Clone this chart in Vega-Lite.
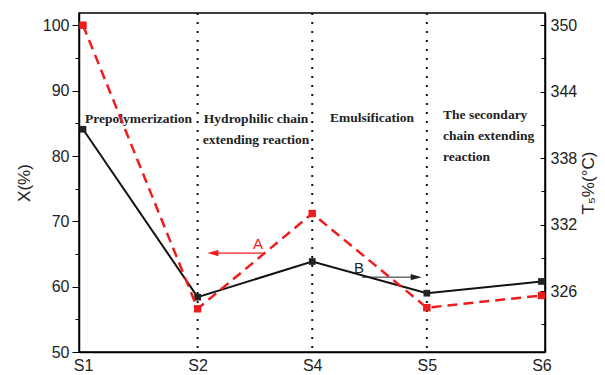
{
  "$schema": "https://vega.github.io/schema/vega-lite/v6.json",
  "width": 466,
  "height": 339,
  "autosize": {"type": "none"},
  "padding": {"left": 79, "top": 13, "right": 60, "bottom": 23},
  "config": {
    "view": {"stroke": "#000000", "strokeWidth": 1.5},
    "axis": {
      "domainColor": "#000000",
      "domainWidth": 1.5,
      "tickColor": "#000000",
      "labelColor": "#222222",
      "titleColor": "#222222",
      "labelFont": "Liberation Sans",
      "titleFont": "Liberation Sans",
      "labelFontSize": 16,
      "titleFontSize": 17,
      "titleFontWeight": "normal",
      "grid": false
    }
  },
  "datasets": {
    "series": [
      {"idx": 1, "stage": "S1", "X": 84.1, "T": 350.0},
      {"idx": 2, "stage": "S2", "X": 58.4, "T": 324.4},
      {"idx": 3, "stage": "S4", "X": 63.85, "T": 333.0},
      {"idx": 4, "stage": "S5", "X": 59.0, "T": 324.5},
      {"idx": 5, "stage": "S6", "X": 60.8, "T": 325.6}
    ],
    "stagesCentered": [
      {"x": 1.484, "y": 85.7, "text": "Prepolymerization"},
      {"x": 2.51, "y": 85.7, "text": "Hydrophilic chain"},
      {"x": 2.51, "y": 82.5, "text": "extending reaction"},
      {"x": 3.522, "y": 85.9, "text": "Emulsification"}
    ],
    "stagesLeft": [
      {"x": 4.141, "y": 86.35, "text": "The secondary"},
      {"x": 4.141, "y": 83.0, "text": "chain extending"},
      {"x": 4.141, "y": 79.9, "text": "reaction"}
    ],
    "arrowA": [{"x": 2.579, "x2": 2.133, "y": 65.14, "head": 2.133, "lx": 2.527, "ly": 66.57, "label": "A"}],
    "arrowB": [{"x": 3.435, "x2": 3.907, "y": 61.46, "head": 3.907, "lx": 3.408, "ly": 62.93, "label": "B"}]
  },
  "data": {"name": "series"},
  "layer": [
    {
      "transform": [{"filter": "datum.idx >= 2 && datum.idx <= 4"}],
      "mark": {"type": "rule", "strokeDash": [2, 7], "strokeWidth": 2, "color": "#111111"},
      "encoding": {
        "x": {"field": "idx", "type": "quantitative", "scale": {"domain": [0.965, 5.031], "nice": false, "zero": false}}
      }
    },
    {
      "mark": {"type": "line", "color": "#111111", "strokeWidth": 2},
      "encoding": {
        "x": {
          "field": "idx", "type": "quantitative",
          "scale": {"domain": [0.965, 5.031], "nice": false, "zero": false},
          "axis": {
            "values": [1, 2, 3, 4, 5],
            "labelExpr": "datum.value == 1 ? 'S1' : datum.value == 2 ? 'S2' : datum.value == 3 ? 'S4' : datum.value == 4 ? 'S5' : 'S6'",
            "ticks": false,
            "title": null,
            "labelPadding": 5,
            "labelFlush": false
          }
        },
        "y": {
          "field": "X", "type": "quantitative",
          "scale": {"domain": [50, 101.9], "nice": false, "zero": false},
          "axis": {
            "title": "X(%)",
            "values": [50, 60, 70, 80, 90, 100],
            "tickSize": 7,
            "labelPadding": 3,
            "titlePadding": 9
          }
        }
      }
    },
    {
      "mark": {"type": "point", "opacity": 0},
      "encoding": {
        "x": {"field": "idx", "type": "quantitative", "scale": {"domain": [0.965, 5.031], "nice": false, "zero": false}},
        "y": {
          "field": "X", "type": "quantitative",
          "scale": {"domain": [50, 101.9], "nice": false, "zero": false},
          "axis": {"orient": "left", "values": [55, 65, 75, 85, 95], "labels": false, "domain": false, "title": null, "tickSize": 4}
        }
      }
    },
    {
      "mark": {"type": "point", "shape": "square", "filled": true, "color": "#222222", "size": 45, "opacity": 1, "clip": false},
      "encoding": {
        "x": {"field": "idx", "type": "quantitative", "scale": {"domain": [0.965, 5.031], "nice": false, "zero": false}},
        "y": {"field": "X", "type": "quantitative", "scale": {"domain": [50, 101.9], "nice": false, "zero": false}, "axis": null}
      }
    },
    {
      "data": {"name": "stagesCentered"},
      "mark": {"type": "text", "font": "Liberation Serif", "fontWeight": "bold", "fontSize": 13.5, "color": "#222222", "align": "center", "baseline": "middle"},
      "encoding": {
        "x": {"field": "x", "type": "quantitative", "scale": {"domain": [0.965, 5.031], "nice": false, "zero": false}},
        "y": {"field": "y", "type": "quantitative", "scale": {"domain": [50, 101.9], "nice": false, "zero": false}, "axis": null},
        "text": {"field": "text"}
      }
    },
    {
      "data": {"name": "stagesLeft"},
      "mark": {"type": "text", "font": "Liberation Serif", "fontWeight": "bold", "fontSize": 13.5, "color": "#222222", "align": "left", "baseline": "middle"},
      "encoding": {
        "x": {"field": "x", "type": "quantitative", "scale": {"domain": [0.965, 5.031], "nice": false, "zero": false}},
        "y": {"field": "y", "type": "quantitative", "scale": {"domain": [50, 101.9], "nice": false, "zero": false}, "axis": null},
        "text": {"field": "text"}
      }
    },
    {
      "data": {"name": "arrowA"},
      "mark": {"type": "rule", "color": "#ee1c1c", "strokeWidth": 1.2},
      "encoding": {
        "x": {"field": "x", "type": "quantitative", "scale": {"domain": [0.965, 5.031], "nice": false, "zero": false}},
        "x2": {"field": "x2"},
        "y": {"field": "y", "type": "quantitative", "scale": {"domain": [50, 101.9], "nice": false, "zero": false}, "axis": null}
      }
    },
    {
      "data": {"name": "arrowA"},
      "mark": {"type": "point", "shape": "M-1,0L1,-0.55L1,0.55Z", "filled": true, "color": "#ee1c1c", "size": 121, "opacity": 1},
      "encoding": {
        "x": {"field": "head", "type": "quantitative", "scale": {"domain": [0.965, 5.031], "nice": false, "zero": false}},
        "y": {"field": "y", "type": "quantitative", "scale": {"domain": [50, 101.9], "nice": false, "zero": false}, "axis": null}
      }
    },
    {
      "data": {"name": "arrowA"},
      "mark": {"type": "text", "font": "Liberation Sans", "fontSize": 15, "color": "#ee1c1c", "align": "center", "baseline": "middle"},
      "encoding": {
        "x": {"field": "lx", "type": "quantitative", "scale": {"domain": [0.965, 5.031], "nice": false, "zero": false}},
        "y": {"field": "ly", "type": "quantitative", "scale": {"domain": [50, 101.9], "nice": false, "zero": false}, "axis": null},
        "text": {"field": "label"}
      }
    },
    {
      "data": {"name": "arrowB"},
      "mark": {"type": "rule", "color": "#222222", "strokeWidth": 1},
      "encoding": {
        "x": {"field": "x", "type": "quantitative", "scale": {"domain": [0.965, 5.031], "nice": false, "zero": false}},
        "x2": {"field": "x2"},
        "y": {"field": "y", "type": "quantitative", "scale": {"domain": [50, 101.9], "nice": false, "zero": false}, "axis": null}
      }
    },
    {
      "data": {"name": "arrowB"},
      "mark": {"type": "point", "shape": "M1,0L-1,-0.55L-1,0.55Z", "filled": true, "color": "#222222", "size": 121, "opacity": 1},
      "encoding": {
        "x": {"field": "head", "type": "quantitative", "scale": {"domain": [0.965, 5.031], "nice": false, "zero": false}},
        "y": {"field": "y", "type": "quantitative", "scale": {"domain": [50, 101.9], "nice": false, "zero": false}, "axis": null}
      }
    },
    {
      "data": {"name": "arrowB"},
      "mark": {"type": "text", "font": "Liberation Sans", "fontSize": 15, "color": "#222222", "align": "center", "baseline": "middle"},
      "encoding": {
        "x": {"field": "lx", "type": "quantitative", "scale": {"domain": [0.965, 5.031], "nice": false, "zero": false}},
        "y": {"field": "ly", "type": "quantitative", "scale": {"domain": [50, 101.9], "nice": false, "zero": false}, "axis": null},
        "text": {"field": "label"}
      }
    },
    {
      "mark": {"type": "line", "color": "#ee1c1c", "strokeWidth": 2.5, "strokeDash": [10, 6]},
      "encoding": {
        "x": {"field": "idx", "type": "quantitative", "scale": {"domain": [0.965, 5.031], "nice": false, "zero": false}},
        "y": {
          "field": "T", "type": "quantitative",
          "scale": {"domain": [320.5, 351.1], "nice": false, "zero": false},
          "axis": {
            "orient": "right",
            "title": "T₅%(°C)",
            "titleAngle": 270,
            "titleBaseline": "top",
            "values": [326, 332, 338, 344, 350],
            "tickSize": -5,
            "labelPadding": 10,
            "titlePadding": 4
          }
        }
      }
    },
    {
      "mark": {"type": "point", "opacity": 0},
      "encoding": {
        "x": {"field": "idx", "type": "quantitative", "scale": {"domain": [0.965, 5.031], "nice": false, "zero": false}},
        "y": {
          "field": "T", "type": "quantitative",
          "scale": {"domain": [320.5, 351.1], "nice": false, "zero": false},
          "axis": {"orient": "right", "values": [323, 329, 335, 341, 347], "labels": false, "domain": false, "title": null, "tickSize": -4}
        }
      }
    },
    {
      "mark": {"type": "point", "shape": "square", "filled": true, "color": "#ee1c1c", "size": 55, "opacity": 1, "clip": false},
      "encoding": {
        "x": {"field": "idx", "type": "quantitative", "scale": {"domain": [0.965, 5.031], "nice": false, "zero": false}},
        "y": {"field": "T", "type": "quantitative", "scale": {"domain": [320.5, 351.1], "nice": false, "zero": false}, "axis": null}
      }
    }
  ],
  "resolve": {"scale": {"y": "independent"}}
}
